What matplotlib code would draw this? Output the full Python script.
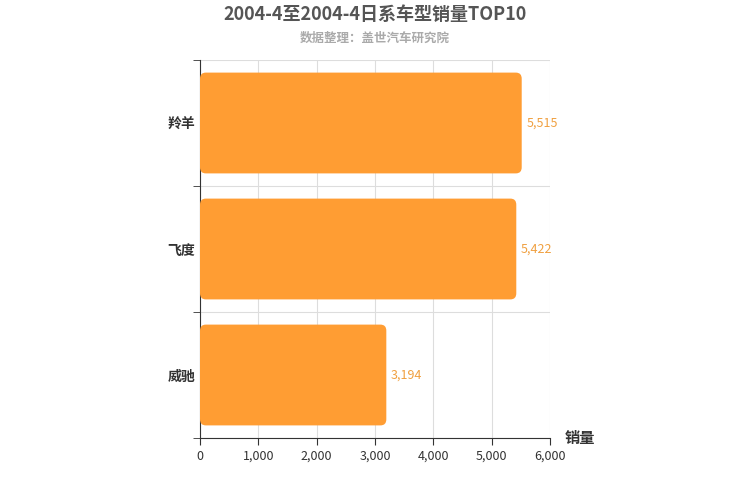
import matplotlib
matplotlib.use("Agg")
import matplotlib.pyplot as plt
from matplotlib.patches import FancyBboxPatch

plt.rcParams['font.family'] = ['Noto Sans CJK SC', 'DejaVu Sans']

categories = ["羚羊", "飞度", "威驰"]
values = [5515, 5422, 3194]
xticks = [0, 1000, 2000, 3000, 4000, 5000, 6000]
color = "#FF9D33"

fig = plt.figure(figsize=(7.5, 5), dpi=100)
ax = fig.add_axes([200/750, 1-438/500, 350/750, 378/500])
n = len(categories)
ys = [n-1-i for i in range(n)]
bars = ax.barh(ys, values, height=0.8, color=color)
for b in list(bars):
    x, y, w, h = b.get_x(), b.get_y(), b.get_width(), b.get_height()
    b.set_visible(False)
    p = FancyBboxPatch((x, y), w, h, boxstyle="round,pad=0,rounding_size=100",
                       mutation_aspect=0.048/100, fc=color, ec="none", zorder=3)
    ax.add_patch(p)
for y, v in zip(ys, values):
    ax.text(v + 80, y, f"{v:,}", va="center", ha="left", color="#F0A040", fontsize=9)
ax.set_xlim(0, 6000)
ax.set_ylim(-0.5, n-0.5)
ax.set_xticks(xticks)
ax.set_xticklabels([f"{t:,}" for t in xticks], fontsize=9, color="#333")
ax.set_yticks(ys)
ax.set_yticklabels(categories, fontsize=10, fontweight="bold", color="#333")
ax.set_yticks([i-0.5 for i in range(n+1)], minor=True)
ax.tick_params(axis='y', which='major', length=0)
ax.tick_params(axis='y', which='minor', length=5, color="#333")
ax.tick_params(axis='x', length=5, color="#333")
ax.grid(axis='x', color="#dddddd", zorder=0)
ax.grid(axis='y', which='minor', color="#dddddd", zorder=0)
ax.set_axisbelow(True)
for s in ["top", "right"]:
    ax.spines[s].set_visible(False)
for s in ["left", "bottom"]:
    ax.spines[s].set_color("#333")
fig.text(0.5, 1-14/500, "2004-4至2004-4日系车型销量TOP10", ha="center", va="center",
         fontsize=13, fontweight="bold", color="#555")
fig.text(0.5, 1-38/500, "数据整理：盖世汽车研究院", ha="center", va="center",
         fontsize=9, fontweight="bold", color="#aaa")
fig.text(580/750, 1-438/500, "销量", ha="center", va="center", fontsize=11,
         fontweight="bold", color="#333")
fig.savefig("out.png", dpi=100)
